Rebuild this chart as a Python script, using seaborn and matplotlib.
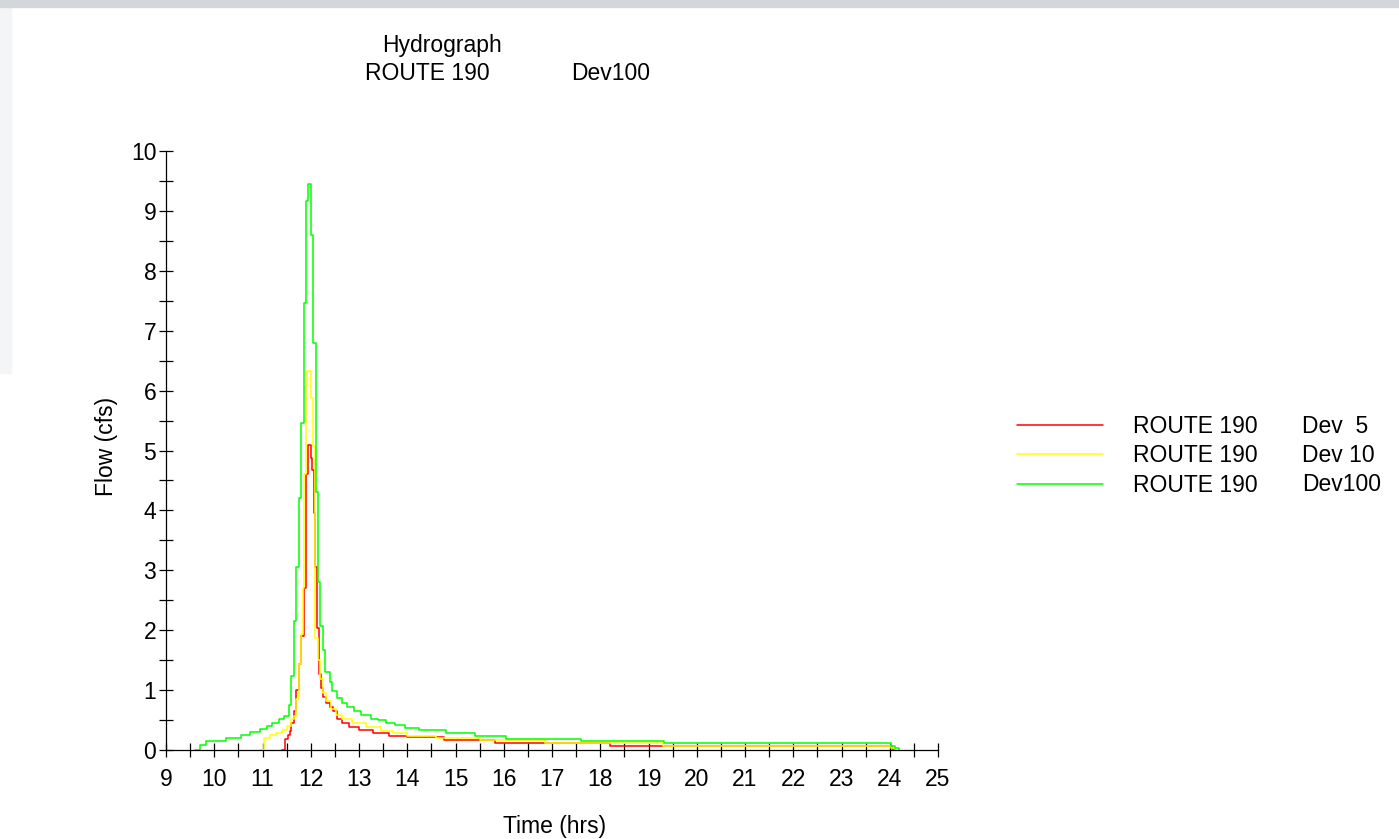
import matplotlib
matplotlib.use('Agg')
import matplotlib.pyplot as plt
import numpy as np
import pandas as pd
import seaborn as sns
from matplotlib.ticker import MultipleLocator

# Hydrograph values (step values, each held until the next time)
dev5_time = [11.40, 11.46, 11.52, 11.56, 11.60, 11.66, 11.70, 11.75, 11.80, 11.85,
             11.90, 11.95, 12.00, 12.03, 12.06, 12.09, 12.13, 12.17, 12.21, 12.25,
             12.32, 12.40, 12.47, 12.55, 12.65, 12.80, 13.00, 13.30, 13.62, 14.00,
             14.76, 15.82, 18.20, 19.30, 24.05, 24.10]
dev5_flow = [0.00, 0.19, 0.25, 0.32, 0.45, 0.65, 1.00, 1.44, 1.90, 2.70,
             4.60, 5.10, 4.88, 4.68, 3.95, 3.06, 2.03, 1.27, 1.04, 0.88,
             0.78, 0.71, 0.65, 0.52, 0.45, 0.38, 0.33, 0.28, 0.24, 0.21,
             0.16, 0.12, 0.075, 0.07, 0.02, 0.00]

dev10_time = [10.95, 11.04, 11.15, 11.28, 11.40, 11.50, 11.60, 11.65, 11.70, 11.75,
              11.80, 11.84, 11.87, 11.90, 11.93, 12.00, 12.05, 12.09, 12.14, 12.19,
              12.25, 12.32, 12.42, 12.52, 12.65, 12.85, 13.15, 13.45, 13.70, 14.00,
              14.60, 15.50, 16.85, 19.30, 24.03, 24.10]
dev10_flow = [0.00, 0.20, 0.25, 0.28, 0.33, 0.40, 0.52, 0.57, 0.85, 1.44,
              1.94, 2.70, 4.60, 6.10, 6.32, 5.88, 5.08, 1.87, 1.50, 1.18,
              0.95, 0.81, 0.68, 0.59, 0.52, 0.45, 0.38, 0.32, 0.28, 0.24,
              0.20, 0.16, 0.11, 0.075, 0.04, 0.00]

dev100_time = [9.60, 9.70, 9.82, 10.25, 10.55, 10.75, 10.95, 11.10, 11.20, 11.35,
               11.45, 11.55, 11.60, 11.65, 11.70, 11.75, 11.80, 11.85, 11.90, 11.95,
               12.00, 12.05, 12.10, 12.15, 12.20, 12.25, 12.30, 12.40, 12.45, 12.55,
               12.65, 12.75, 12.90, 13.05, 13.25, 13.40, 13.55, 13.75, 13.95, 14.25,
               14.80, 15.40, 16.05, 17.60, 19.32, 24.02, 24.10, 24.20]
dev100_flow = [0.00, 0.09, 0.15, 0.20, 0.25, 0.30, 0.35, 0.40, 0.45, 0.52,
               0.57, 0.75, 1.24, 2.15, 3.05, 4.20, 5.46, 7.46, 9.17, 9.45,
               8.60, 6.80, 4.30, 2.80, 2.07, 1.67, 1.31, 1.14, 0.98, 0.86,
               0.79, 0.71, 0.65, 0.58, 0.52, 0.50, 0.45, 0.41, 0.37, 0.33,
               0.28, 0.24, 0.19, 0.155, 0.11, 0.06, 0.03, 0.00]

series_names = ['Dev  5', 'Dev 10', 'Dev100']
series_colors = ['#ff0000', '#ffff00', '#00ff00']
legend_route = 'ROUTE 190'

df = pd.concat([
    pd.DataFrame({'time': dev5_time, 'flow': dev5_flow, 'series': series_names[0]}),
    pd.DataFrame({'time': dev10_time, 'flow': dev10_flow, 'series': series_names[1]}),
    pd.DataFrame({'time': dev100_time, 'flow': dev100_flow, 'series': series_names[2]}),
], ignore_index=True)

sns.set_style('white')
plt.rcParams['font.family'] = ['Liberation Sans', 'DejaVu Sans']
plt.rcParams['text.color'] = 'black'
plt.rcParams['axes.labelcolor'] = 'black'
FS = 16.5
W, H = 1399, 839

fig = plt.figure(figsize=(13.99, 8.39), dpi=100)
fig.patch.set_facecolor('white')
# light grey page edge seen on the left and top of the reference
fig.add_artist(plt.Rectangle((0, 1 - 373 / H), 11 / W, 373 / H, transform=fig.transFigure,
                             color='#f4f5f6', zorder=0))
fig.add_artist(plt.Rectangle((0, 1 - 7 / H), 1, 7 / H, transform=fig.transFigure,
                             color='#d3d7db', zorder=0))

ax = fig.add_axes([166 / W, 1 - 750 / H, (938 - 166) / W, (750 - 151) / H])
sns.lineplot(data=df, x='time', y='flow', hue='series', hue_order=series_names,
             palette=series_colors, drawstyle='steps-post', lw=1.1,
             estimator=None, sort=False, legend=False, ax=ax)

ax.set_xlim(9, 25)
ax.set_ylim(0, 10)
ax.xaxis.set_major_locator(MultipleLocator(1))
ax.xaxis.set_minor_locator(MultipleLocator(0.5))
ax.yaxis.set_major_locator(MultipleLocator(1))
ax.yaxis.set_minor_locator(MultipleLocator(0.5))
for side in ['top', 'right']:
    ax.spines[side].set_visible(False)
for side in ['bottom', 'left']:
    ax.spines[side].set_color('black')
    ax.spines[side].set_linewidth(0.9)
ax.tick_params(which='both', bottom=True, left=True, direction='inout', length=10,
               width=0.9, color='black', labelcolor='black', labelsize=FS)
ax.tick_params(axis='x', which='major', pad=8)
ax.tick_params(axis='y', which='major', pad=2)

ax.set_xlabel('Time (hrs)', fontsize=FS)
ax.set_ylabel('Flow (cfs)', fontsize=FS)
ax.xaxis.set_label_coords((555 - 166) / 772, (750 - 826) / 599)
ax.xaxis.label.set_va('center')
ax.yaxis.set_label_coords((107 - 166) / 772, (750 - 446) / 599)
ax.yaxis.label.set_va('center')

# title block
fig.text(442 / W, 1 - 52 / H, 'Hydrograph', ha='center', va='baseline', fontsize=FS)
fig.text(365 / W, 1 - 79.5 / H, 'ROUTE 190', ha='left', va='baseline', fontsize=FS)
fig.text(571 / W, 1 - 79.5 / H, 'Dev100', ha='left', va='baseline', fontsize=FS)

# legend
fig.legend(ax.get_lines(), [legend_route] * 3, loc='center left',
           bbox_to_anchor=(1017 / W, 1 - 456 / H), frameon=False, fontsize=FS,
           handlelength=3.75, handletextpad=1.31, borderpad=0, borderaxespad=0,
           labelspacing=0.27)
for name, ly in zip(series_names, [426, 455, 484]):
    fig.text(1302 / W, 1 - (ly + 7) / H, name, ha='left', va='baseline', fontsize=FS)

fig.savefig('out.png', dpi=100, facecolor=fig.get_facecolor())
